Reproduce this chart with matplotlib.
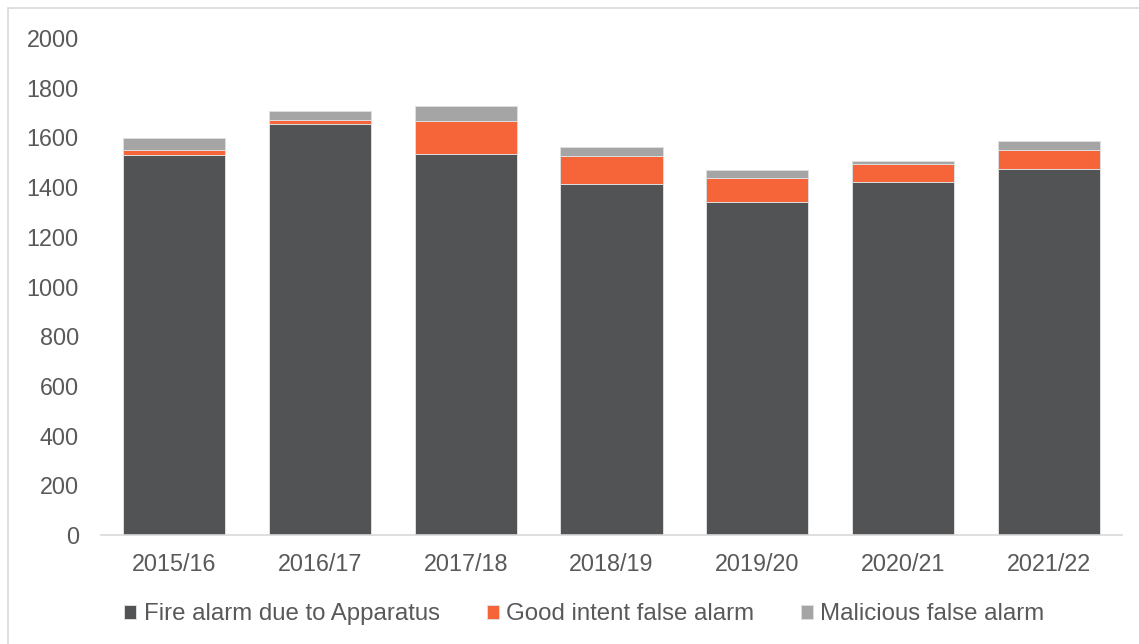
import matplotlib.pyplot as plt
from matplotlib.patches import Rectangle
import numpy as np

plt.rcParams['font.family'] = ['Liberation Sans', 'DejaVu Sans']

years = ["2015/16", "2016/17", "2017/18", "2018/19", "2019/20", "2020/21", "2021/22"]
apparatus = [1529, 1655, 1532, 1414, 1341, 1422, 1474]
good_intent = [21, 16, 135, 112, 96, 72, 77]
malicious = [49, 36, 58, 34, 33, 12, 34]

c_dark = "#525355"
c_orange = "#F6643A"
c_grey = "#A5A5A5"
txt = "#595959"
fs = 16.8

fig = plt.figure(figsize=(11.39, 6.44), dpi=100)
ax = fig.add_axes([0.0887, 0.169, 0.8963, 0.772])

x = np.arange(len(years))
w = 0.7
edge = dict(edgecolor="#dedede", linewidth=0.7)
ax.bar(x, apparatus, w, color=c_dark, label="Fire alarm due to Apparatus", **edge)
b2 = np.array(apparatus)
ax.bar(x, good_intent, w, bottom=b2, color=c_orange, label="Good intent false alarm", **edge)
b3 = b2 + np.array(good_intent)
ax.bar(x, malicious, w, bottom=b3, color=c_grey, label="Malicious false alarm", **edge)

ax.set_xlim(-0.5, len(years) - 0.5)
ax.set_ylim(0, 2000)
ax.set_yticks(range(0, 2001, 200))
ax.set_xticks(x)
ax.set_xticklabels(years)
ax.tick_params(axis="both", length=0, labelsize=fs, labelcolor=txt)
ax.tick_params(axis="y", pad=16)
ax.tick_params(axis="x", pad=13)
for s in ["top", "right", "left"]:
    ax.spines[s].set_visible(False)
ax.spines["bottom"].set_color("#d9d9d9")
ax.spines["bottom"].set_linewidth(1.2)

leg = fig.legend(loc="center", bbox_to_anchor=(0.513, 0.046), ncol=3, frameon=False,
                 fontsize=17.3, handlelength=0.5, handleheight=0.5, handletextpad=0.3,
                 columnspacing=1.95)
for t in leg.get_texts():
    t.set_color(txt)

# chart border
fig.patches.append(Rectangle((8 / 1139, -0.1), 1.2, 1.1 - 8 / 644, transform=fig.transFigure,
                             fill=False, edgecolor="#d9d9d9", linewidth=1.2))

fig.savefig("out.png", dpi=100)
